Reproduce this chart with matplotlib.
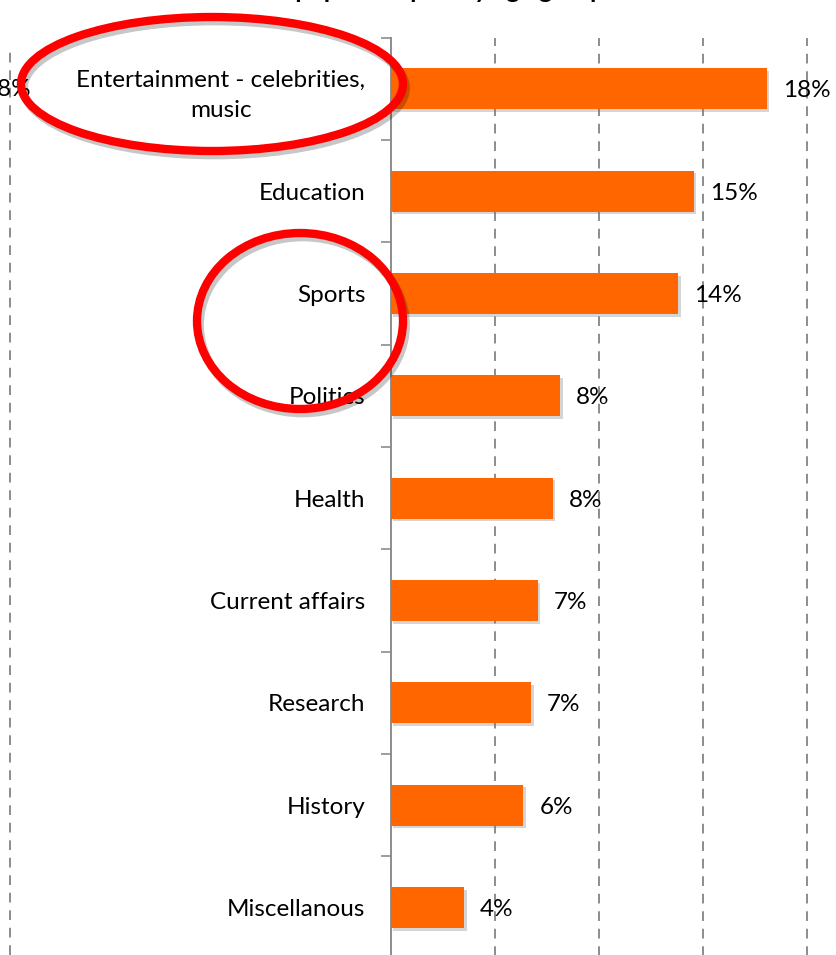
import matplotlib
matplotlib.use("Agg")
import matplotlib.pyplot as plt
from matplotlib.patches import Ellipse
from matplotlib.lines import Line2D
import matplotlib.patheffects as pe

plt.rcParams['font.family'] = ['Lato', 'DejaVu Sans']

# Data
categories = ["Entertainment - celebrities,\nmusic", "Education", "Sports", "Politics",
              "Health", "Current affairs", "Research", "History", "Miscellanous"]
values = [18.05, 14.55, 13.8, 8.13, 7.78, 7.06, 6.73, 6.37, 3.53]
grid_ticks = [5, 10, 15, 20]

W, H = 836, 955
fig = plt.figure(figsize=(W / 100, H / 100), dpi=100)

# Axes placement in pixels: zero line at x=390.5, top boundary at y=37.5
x0, y_top, y_bot = 390.5, 37.5, 958.7
px_per_pct = 20.84
ax = fig.add_axes([x0 / W, (H - y_bot) / H, (W - x0) / W, (y_bot - y_top) / H])
ax.set_xlim(0, (W - x0) / px_per_pct)
ax.set_ylim(len(categories) - 0.5, -0.5)

orange = "#FF6600"
gray = "#8C8C8C"
fs = 17.5

ypos = list(range(len(categories)))
bars = ax.barh(ypos, values, height=0.4, color=orange, zorder=3)
for b in bars:
    b.set_path_effects([pe.SimplePatchShadow(offset=(2, -2), shadow_rgbFace="#777777", alpha=0.3),
                        pe.Normal()])

for y, v in zip(ypos, values):
    ax.text(v + 16 / px_per_pct, y + 0.02, f"{round(v):d}%", va="center", ha="left",
            fontsize=fs, color="black", zorder=4)

# Gridlines
for g in grid_ticks:
    ax.axvline(g, color=gray, lw=1.4, linestyle=(0, (5, 4)), zorder=1)

# Spines
for s in ["top", "right", "bottom"]:
    ax.spines[s].set_visible(False)
ax.spines["left"].set_color(gray)
ax.spines["left"].set_linewidth(1.4)
ax.set_xticks([])

ax.set_yticks(ypos)
ax.set_yticklabels(categories, fontsize=fs)
for lbl in ax.get_yticklabels():
    lbl.set_multialignment("center")
    lbl.set_linespacing(1.55)
ax.tick_params(axis="y", which="major", length=0, pad=18)
ax.set_yticks([i - 0.5 for i in range(len(categories) + 1)], minor=True)
ax.tick_params(axis="y", which="minor", length=7, width=1.2, color=gray)

# Partial neighbouring panel edge on the far left
fig.add_artist(Line2D([10 / W, 10 / W], [0, (H - 45) / H], transform=fig.transFigure,
                      color=gray, lw=1.4, linestyle=(0, (5, 4))))
fig.text(31 / W, 1 - 89 / H, "18%", ha="right", va="center", fontsize=fs)

# Title (mostly above the visible area)
fig.text(0.5, 1 + 2 / H, "Most popular topics by age group", ha="center", va="baseline",
         fontsize=18, fontweight="bold")

# Red highlight ellipses
shadow = [pe.SimpleLineShadow(offset=(2, -3), shadow_color="black", alpha=0.22), pe.Normal()]
for cx, cy, w, h in [(212, 84, 382, 134), (300, 321, 206, 176)]:
    e = Ellipse((cx / W, 1 - cy / H), w / W, h / H, transform=fig.transFigure,
                fill=False, edgecolor="#FF0000", lw=6, zorder=10)
    e.set_path_effects(shadow)
    fig.add_artist(e)

fig.savefig("out.png", dpi=100)
